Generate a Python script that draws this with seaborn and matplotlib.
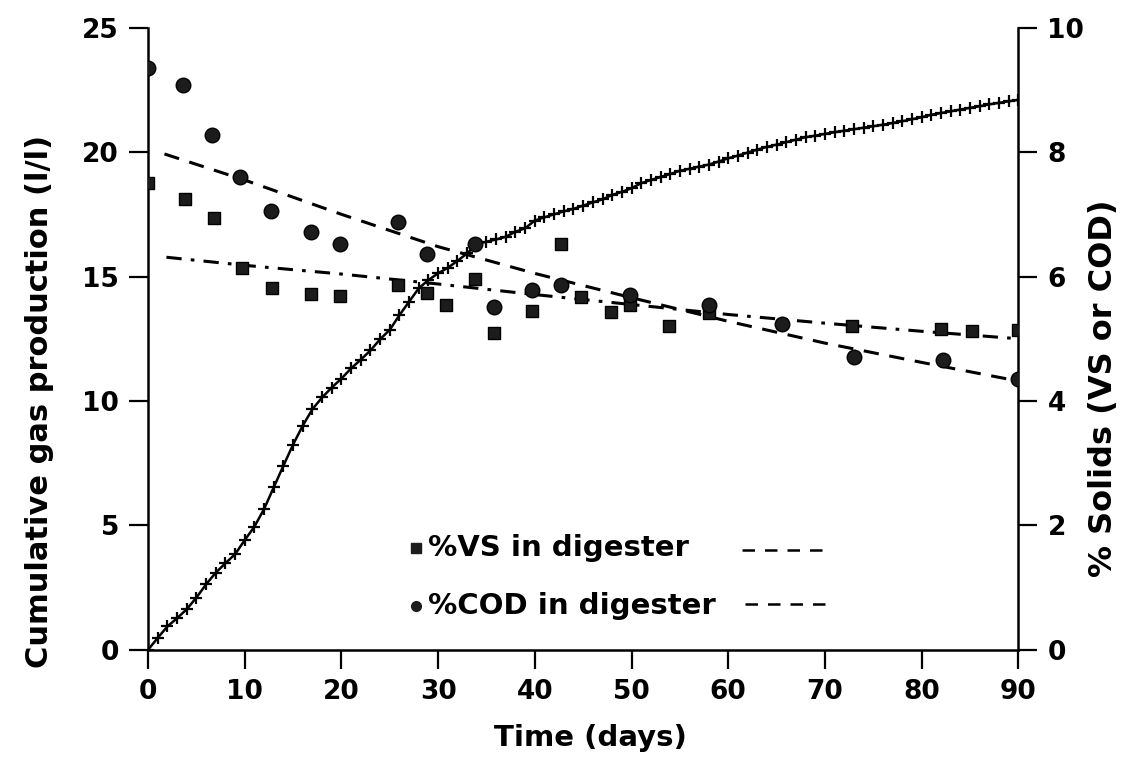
import matplotlib
matplotlib.use('Agg')
import matplotlib.pyplot as plt
import seaborn as sns
from matplotlib.lines import Line2D

# Cumulative gas production (l/l), one reading per day
gas_days = list(range(0, 91))
gas_prod = [0.00, 0.48, 0.94, 1.27, 1.63, 2.10, 2.63, 3.10, 3.48, 3.84,
            4.41, 4.95, 5.66, 6.53, 7.40, 8.25, 9.01, 9.67, 10.14, 10.54,
            10.90, 11.31, 11.66, 12.03, 12.48, 12.86, 13.45, 13.99, 14.53, 14.86,
            15.13, 15.35, 15.63, 15.93, 16.31, 16.40, 16.49, 16.60, 16.80, 16.94,
            17.25, 17.38, 17.50, 17.62, 17.72, 17.85, 17.98, 18.10, 18.28, 18.40,
            18.55, 18.75, 18.88, 19.00, 19.12, 19.25, 19.33, 19.42, 19.50, 19.62,
            19.75, 19.86, 19.98, 20.10, 20.21, 20.30, 20.40, 20.50, 20.60, 20.66,
            20.73, 20.80, 20.86, 20.92, 20.98, 21.04, 21.10, 21.17, 21.24, 21.32,
            21.40, 21.50, 21.57, 21.64, 21.71, 21.78, 21.84, 21.92, 21.98, 22.04,
            22.10]

# %VS in digester (right axis)
vs_days = [0, 3.8, 6.8, 9.7, 12.8, 16.8, 19.9, 25.8, 28.8, 30.8, 33.8, 35.8,
           39.7, 42.7, 44.8, 47.9, 49.8, 53.9, 58.0, 72.8, 82.0, 85.2, 90.0]
vs_pct = [7.50, 7.25, 6.94, 6.13, 5.82, 5.72, 5.69, 5.87, 5.74, 5.54, 5.96, 5.09,
          5.45, 6.53, 5.67, 5.43, 5.55, 5.20, 5.42, 5.21, 5.15, 5.12, 5.14]

# %COD in digester (right axis)
cod_days = [0, 3.6, 6.6, 9.5, 12.7, 16.8, 19.8, 25.8, 28.8, 33.8, 35.8,
            39.7, 42.7, 49.8, 58.0, 65.6, 73.0, 82.2, 90.0]
cod_pct = [9.35, 9.08, 8.27, 7.60, 7.06, 6.72, 6.53, 6.88, 6.37, 6.52, 5.51,
           5.79, 5.87, 5.70, 5.55, 5.24, 4.71, 4.66, 4.36]

# trend lines as drawn in the figure
vs_fit_days = [1.9, 10, 20, 30, 40, 50, 60, 70, 80, 90]
vs_fit = [6.31, 6.18, 6.04, 5.88, 5.71, 5.55, 5.39, 5.25, 5.12, 5.00]
cod_fit_days = [1.7, 10, 20, 30, 40, 50, 60, 70, 80, 90]
cod_fit = [7.97, 7.55, 7.00, 6.48, 6.05, 5.66, 5.28, 4.93, 4.62, 4.32]

sns.set_style('ticks')
plt.rcParams['font.family'] = ['DejaVu Sans']
plt.rcParams['font.weight'] = 'bold'
plt.rcParams['axes.labelweight'] = 'bold'
for k in ('text.color', 'axes.labelcolor', 'xtick.color', 'ytick.color', 'axes.edgecolor'):
    plt.rcParams[k] = 'black'

fig = plt.figure(figsize=(11.39, 7.69), dpi=100)
ax = fig.add_axes([0.130, 0.155, 0.764, 0.809])
ax2 = ax.twinx()

# cumulative gas curve
sns.lineplot(x=gas_days, y=gas_prod, ax=ax, color='black', linewidth=1.8,
             marker='+', markersize=8, markeredgewidth=1.6, markeredgecolor='black',
             estimator=None, sort=False)

# solids data and trend lines
sns.lineplot(x=vs_fit_days, y=vs_fit, ax=ax2, color='black', linewidth=2.2,
             linestyle=(0, (5, 3, 1.2, 3)), estimator=None, sort=False)
sns.lineplot(x=cod_fit_days, y=cod_fit, ax=ax2, color='black', linewidth=2.2,
             linestyle=(0, (5, 3.5)), estimator=None, sort=False)
sns.scatterplot(x=vs_days, y=vs_pct, ax=ax2, marker='s', s=85, color='#1c1c1c',
                edgecolor='black', linewidth=1, zorder=5)
sns.scatterplot(x=cod_days, y=cod_pct, ax=ax2, marker='o', s=110, color='#1c1c1c',
                edgecolor='black', linewidth=1, zorder=5)

ax.set_xlim(0, 90)
ax.set_ylim(0, 25)
ax2.set_ylim(0, 10)
ax.set_xticks(range(0, 91, 10))
ax.set_yticks(range(0, 26, 5))
ax2.set_yticks(range(0, 11, 2))

for a in (ax, ax2):
    a.spines['top'].set_visible(False)
    for s in a.spines.values():
        s.set_linewidth(1.8)
    a.tick_params(direction='out', length=14, width=1.6, labelsize=19, pad=7)
ax.spines['right'].set_visible(False)
ax2.spines['left'].set_visible(False)
ax2.spines['bottom'].set_visible(False)

ax.set_xlabel('Time (days)', fontsize=21)
ax.set_ylabel('Cumulative gas production (l/l)', fontsize=22)
ax2.set_ylabel('% Solids (VS or COD)', fontsize=23)
ax.xaxis.set_label_coords(0.508, -0.12)
ax.yaxis.set_label_coords(-0.108, 0.40)
ax2.yaxis.set_label_coords(1.080, 0.42)

# in-plot key
ax.add_line(Line2D([0.308], [0.164], marker='s', markersize=7, color='#1c1c1c',
                   transform=ax.transAxes, clip_on=False))
ax.text(0.322, 0.164, '%VS in digester', transform=ax.transAxes, fontsize=21,
        va='center', ha='left')
ax.add_line(Line2D([0.683, 0.786], [0.160, 0.160], color='black', linewidth=1.8,
                   linestyle=(0, (5, 4)), transform=ax.transAxes))
ax.add_line(Line2D([0.308], [0.071], marker='o', markersize=7, color='#1c1c1c',
                   transform=ax.transAxes, clip_on=False))
ax.text(0.322, 0.071, '%COD in digester', transform=ax.transAxes, fontsize=21,
        va='center', ha='left')
ax.add_line(Line2D([0.686, 0.784], [0.074, 0.074], color='black', linewidth=1.8,
                   linestyle=(0, (5, 4)), transform=ax.transAxes))

plt.savefig('out.png', dpi=100)
